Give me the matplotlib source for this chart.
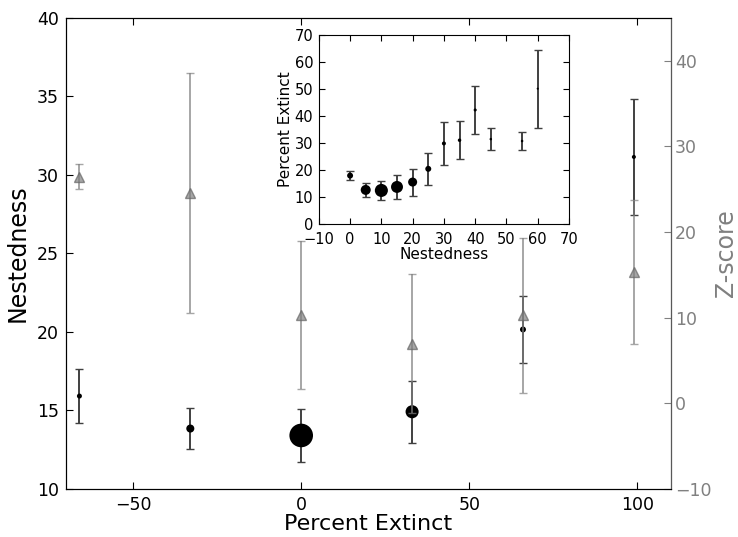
import numpy as np
import matplotlib
matplotlib.use("Agg")
import matplotlib.pyplot as plt

# main panel: binned by percent extinct
pct_extinct = [-66, -33, 0, 33, 66, 99]
nested_mean = [15.92, 13.85, 13.41, 14.92, 20.16, 31.15]
nested_err = [1.74, 1.31, 1.70, 1.96, 2.12, 3.70]
nested_msize = [3.6, 5.8, 17.0, 9.4, 4.3, 2.9]   # marker diameter (pt), by bin weight
zscore_mean = [26.45, 24.6, 10.3, 6.98, 10.26, 15.37]
zscore_err = [1.45, 14.0, 8.64, 8.1, 9.0, 8.43]

# inset: binned by nestedness
nest_bins = [0, 5, 10, 15, 20, 25, 30, 35, 40, 45, 55, 60]
ext_mean = [17.9, 12.6, 12.4, 13.7, 15.5, 20.4, 29.8, 31.0, 42.2, 31.4, 30.7, 50.1]
ext_err = [1.6, 2.5, 3.4, 4.3, 5.0, 5.8, 8.0, 7.0, 9.0, 4.2, 3.5, 14.4]
ext_msize = [4.3, 7.2, 9.4, 8.6, 6.5, 4.3, 2.9, 2.5, 2.2, 1.8, 1.8, 1.5]

fig = plt.figure(figsize=(7.38, 5.37), dpi=100)
ax = fig.add_axes([0.0894, 0.0894, 0.8196, 0.8771])

ax.errorbar(pct_extinct, nested_mean, yerr=nested_err, fmt='none',
            ecolor='0.25', elinewidth=1.4, capsize=2.8, capthick=1.0)
ax.scatter(pct_extinct, nested_mean, s=np.array(nested_msize) ** 2,
           c='k', zorder=3, linewidths=0)
ax.set_xlim(-70, 110)
ax.set_ylim(10, 40)
ax.set_xticks([-50, 0, 50, 100])
ax.set_yticks([10, 15, 20, 25, 30, 35, 40])
ax.tick_params(direction='in', top=True, right=False, labelsize=12.5, length=5, pad=5)
ax.set_xlabel("Percent Extinct", fontsize=16, labelpad=0)
ax.set_ylabel("Nestedness", fontsize=17, labelpad=5)

ax2 = ax.twinx()
ax2.errorbar(pct_extinct, zscore_mean, yerr=zscore_err, fmt='^', color='0.5',
             markersize=7.5, markeredgecolor='0.4', alpha=0.7,
             elinewidth=1.4, capsize=2.8, capthick=1.0)
ax2.set_ylim(-10, 45)
ax2.set_yticks([-10, 0, 10, 20, 30, 40])
ax2.tick_params(direction='in', labelsize=12.5, length=5, pad=3,
                colors='0.5', labelcolor='0.5')
ax2.spines['right'].set_color('0.35')
ax2.set_ylabel("Z-score", fontsize=17, color='0.5', labelpad=2)

# inset
ins = fig.add_axes([0.432, 0.583, 0.339, 0.352])
ins.errorbar(nest_bins, ext_mean, yerr=ext_err, fmt='none',
             ecolor='0.25', elinewidth=1.4, capsize=3, capthick=1.0)
ins.scatter(nest_bins, ext_mean, s=np.array(ext_msize) ** 2,
            c='k', zorder=3, linewidths=0)
ins.set_xlim(-10, 70)
ins.set_ylim(0, 70)
ins.set_xticks(range(-10, 71, 10))
ins.set_yticks(range(0, 71, 10))
ins.tick_params(direction='in', top=True, right=True, labelsize=10.5, length=4)
ins.tick_params(axis='x', pad=6)
ins.tick_params(axis='y', pad=4)
ins.set_xlabel("Nestedness", fontsize=11, labelpad=0)
ins.set_ylabel("Percent Extinct", fontsize=11, labelpad=1)

fig.savefig("out.png", dpi=100)
